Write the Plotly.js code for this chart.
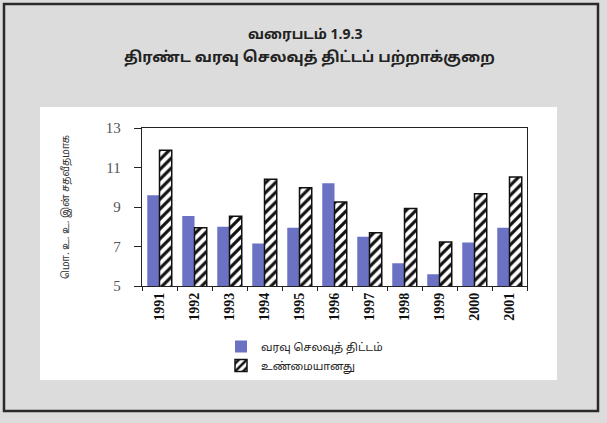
<!DOCTYPE html>
<html>
<head>
<meta charset="utf-8">
<script src="https://cdn.plot.ly/plotly-3.0.1.min.js"></script>
<style>html,body{margin:0;padding:0;background:#dcdcdc;}#chart{width:607px;height:423px;}</style>
</head>
<body>
<div id="chart"></div>
<script>
var years = ['1991','1992','1993','1994','1995','1996','1997','1998','1999','2000','2001'];
var budgetValues = [9.6, 8.55, 8.0, 7.15, 7.95, 10.2, 7.5, 6.15, 5.6, 7.2, 7.95];
var actualValues = [11.87, 7.95, 8.53, 10.4, 9.98, 9.25, 7.7, 8.93, 7.23, 9.67, 10.52];
var budgetName = 'வரவு செலவுத் திட்டம்';
var actualName = 'உண்மையானது';
var titleLine1 = 'வரைபடம் 1.9.3';
var titleLine2 = 'திரண்ட வரவு செலவுத் திட்டப் பற்றாக்குறை';
var yTitle = 'மொ. உ. உ. இன் சதவீதமாக';
var yTickVals = [5, 7, 9, 11, 13];

var tamil = 'Noto Sans Tamil, Lohit Tamil, Noto Sans, DejaVu Sans, sans-serif';

// pixel helpers for plot area: x 142..527, y 128..286
function px(x){ return (x-142)/385; }
function py(y){ return (286-y)/158; }

var data = [
  {type:'bar', x:years, y:budgetValues, name:budgetName,
   marker:{color:'#6b72c4', line:{width:0}}},
  {type:'bar', x:years, y:actualValues, name:actualName,
   marker:{color:'#ffffff', line:{color:'#111', width:1.5},
     pattern:{shape:'/', fgcolor:'#111', bgcolor:'#ffffff', size:7, solidity:0.45}}}
];

var layout = {
  width:607, height:423,
  margin:{l:142, r:80, t:128, b:137},
  paper_bgcolor:'#dcdcdc', plot_bgcolor:'#ffffff',
  barmode:'group', bargap:0.3, bargroupgap:0,
  showlegend:true,
  legend:{x:px(221), y:py(332), xanchor:'left', yanchor:'top',
    bgcolor:'rgba(0,0,0,0)', font:{family:tamil, size:11, color:'#222'},
    tracegroupgap:0},
  xaxis:{type:'category', showline:true, linecolor:'#222', linewidth:1.2, mirror:true,
    ticks:'outside', ticklen:4, tickcolor:'#222', tickson:'boundaries',
    tickangle:-90, tickfont:{family:'Liberation Serif, serif', size:14, color:'#111', weight:'bold'},
    showgrid:false, zeroline:false, fixedrange:true},
  yaxis:{range:[5,13], tickvals:yTickVals, ticktext:yTickVals.map(String),
    showline:true, linecolor:'#222', linewidth:1.2, mirror:true,
    ticks:'outside', ticklen:7, tickcolor:'#222', ticklabelstandoff:10,
    tickfont:{family:'Liberation Serif, serif', size:15, color:'#555'},
    showgrid:false, zeroline:false, fixedrange:true,
    title:{text:yTitle, font:{family:tamil, size:10, color:'#333'}, standoff:34}},
  shapes:[
    {type:'rect', xref:'paper', yref:'paper', layer:'below',
     x0:px(40), x1:px(557), y0:py(380), y1:py(107),
     fillcolor:'#ffffff', line:{width:0}},
    {type:'rect', xref:'paper', yref:'paper', layer:'below',
     x0:px(4), x1:px(598), y0:py(411), y1:py(4),
     fillcolor:'rgba(0,0,0,0)', line:{color:'#2a2a2a', width:2.5}}
  ],
  annotations:[
    {text:'<b>'+titleLine1+'</b>', xref:'paper', yref:'paper', x:px(305), y:py(35),
     xanchor:'center', yanchor:'middle', showarrow:false,
     font:{family:tamil, size:14, color:'#222'}},
    {text:'<b>'+titleLine2+'</b>', xref:'paper', yref:'paper', x:px(309), y:py(58),
     xanchor:'center', yanchor:'middle', showarrow:false,
     font:{family:tamil, size:15, color:'#222'}}
  ]
};

Plotly.newPlot('chart', data, layout, {displayModeBar:false, staticPlot:true});
</script>
</body>
</html>
